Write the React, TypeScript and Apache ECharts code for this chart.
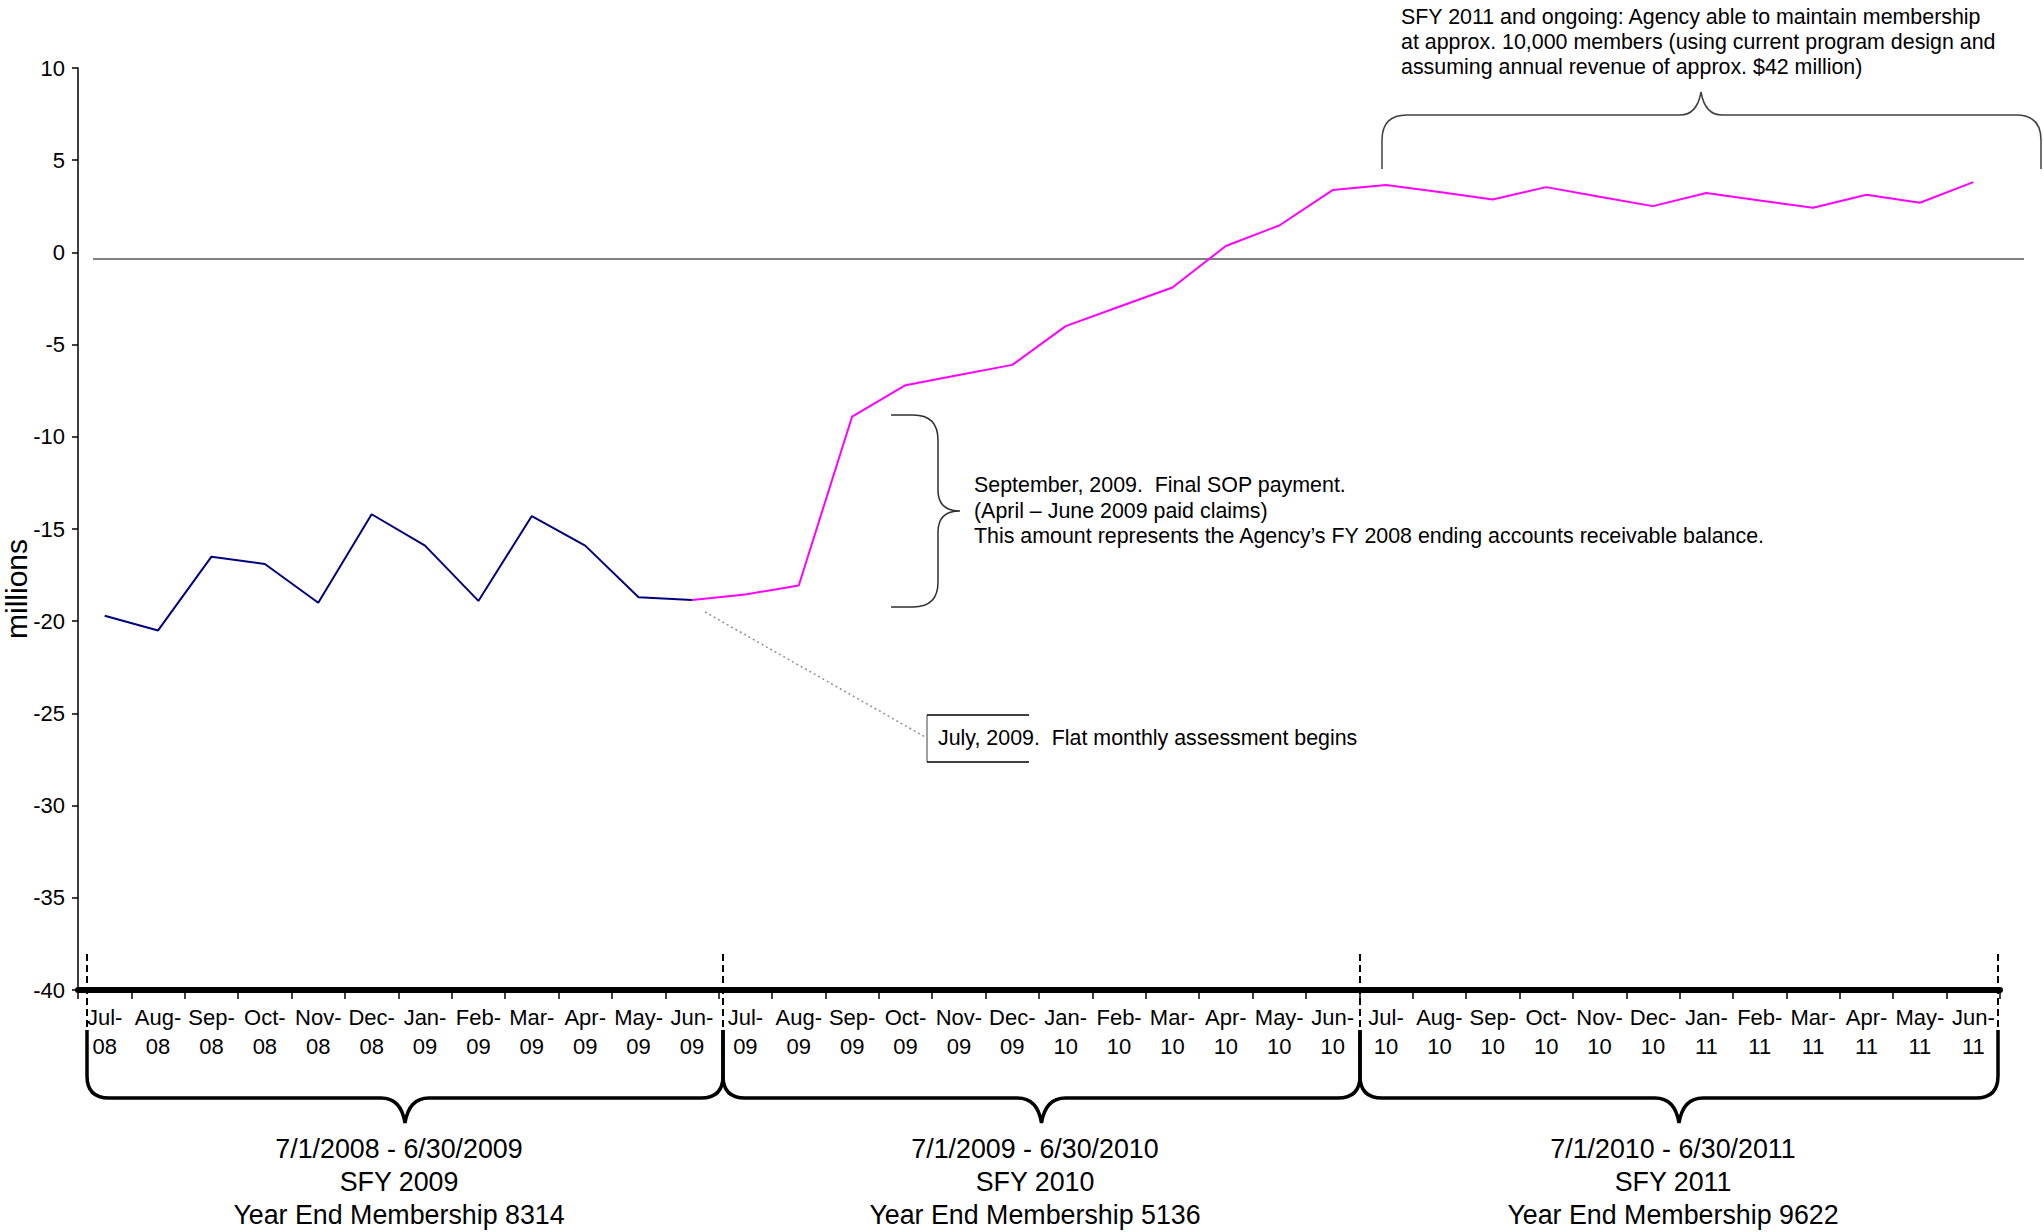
import React, { useEffect, useRef } from "react";
import * as echarts from "echarts";

const categories = [
  "Jul-08", "Aug-08", "Sep-08", "Oct-08", "Nov-08", "Dec-08", "Jan-09", "Feb-09", "Mar-09", "Apr-09", "May-09", "Jun-09",
  "Jul-09", "Aug-09", "Sep-09", "Oct-09", "Nov-09", "Dec-09", "Jan-10", "Feb-10", "Mar-10", "Apr-10", "May-10", "Jun-10",
  "Jul-10", "Aug-10", "Sep-10", "Oct-10", "Nov-10", "Dec-10", "Jan-11", "Feb-11", "Mar-11", "Apr-11", "May-11", "Jun-11",
];

// Actual balance, Jul-08 .. Jun-09 (millions)
const actualValues = [-19.7, -20.5, -16.5, -16.9, -19.0, -14.2, -15.9, -18.9, -14.3, -15.9, -18.7, -18.85];

// Projected balance, Jun-09 .. Jun-11 (millions)
const projectedValues = [
  -18.85,
  -18.55, -18.06, -8.9, -7.2, -6.65, -6.1, -4.0, -2.95, -1.9, 0.35, 1.46, 3.38,
  3.65, 3.27, 2.87, 3.54, 3.02, 2.51, 3.22, 2.82, 2.42, 3.13, 2.69, 3.81,
];

const yTicks = { min: -40, max: 10, interval: 5 };

const topNote = [
  "SFY 2011 and ongoing: Agency able to maintain membership",
  "at approx. 10,000 members (using current program design and",
  "assuming annual revenue of approx. $42 million)",
];
const sopNote = [
  "September, 2009.  Final SOP payment.",
  "(April \u2013 June 2009 paid claims)",
  "This amount represents the Agency\u2019s FY 2008 ending accounts receivable balance.",
];
const julyNote = "July, 2009.  Flat monthly assessment begins";

const fyBlocks = [
  ["7/1/2008 - 6/30/2009", "SFY 2009", "Year End Membership 8314"],
  ["7/1/2009 - 6/30/2010", "SFY 2010", "Year End Membership 5136"],
  ["7/1/2010 - 6/30/2011", "SFY 2011", "Year End Membership 9622"],
];

const FONT = '"Liberation Sans", Arial, Helvetica, sans-serif';

function txt(text: string, x: number, y: number, size: number, align = "left", color = "#000") {
  return {
    type: "text",
    x,
    y,
    silent: true,
    style: {
      text,
      fontSize: size,
      fontFamily: FONT,
      fill: color,
      align,
      textAlign: align,
      verticalAlign: "middle",
      textVerticalAlign: "middle",
    },
  };
}

export default function App() {
  const ref = useRef<HTMLDivElement>(null);

  useEffect(() => {
    if (!ref.current) return;

    const braceRanges = [
      [87, 723],
      [723, 1360],
      [1360, 1998],
    ];
    braceRanges.forEach(([xL, xR], i) => {
      const c = (xL + xR) / 2;
      const d = `M ${xL} 1030 L ${xL} 1076 Q ${xL} 1098 ${xL + 22} 1098 L ${c - 24} 1098 Q ${c - 4} 1098 ${c} 1123 Q ${c + 4} 1098 ${c + 24} 1098 L ${xR - 22} 1098 Q ${xR} 1098 ${xR} 1076 L ${xR} 1030`;
      echarts.graphic.registerShape("fyBrace" + i, echarts.graphic.extendPath(d, {}));
    });
    echarts.graphic.registerShape(
      "topBrace",
      echarts.graphic.extendPath(
        "M 1382 169 L 1382 140 Q 1382 115 1407 115 L 1680 115 Q 1697 115 1701 92 Q 1705 115 1722 115 L 2016 115 Q 2041 115 2041 140 L 2041 169",
        {}
      )
    );
    echarts.graphic.registerShape(
      "sopBrace",
      echarts.graphic.extendPath(
        "M 891 415 L 913 415 Q 938 415 938 440 L 938 490 Q 938 511 960 511 Q 938 511 938 532 L 938 582 Q 938 607 913 607 L 891 607",
        {}
      )
    );

    const chart = echarts.init(ref.current, undefined, { renderer: "svg" });

    const n = categories.length;
    const actualData = categories.map((_, i) => (i < actualValues.length ? actualValues[i] : null));
    const startIdx = n - projectedValues.length;
    const projectedData = categories.map((_, i) => (i >= startIdx ? projectedValues[i - startIdx] : null));

    const graphics: any[] = [];
    graphics.push({ type: "line", silent: true, shape: { x1: 93, y1: 259, x2: 2024, y2: 259 }, style: { stroke: "#808080", lineWidth: 2 } });
    graphics.push({ type: "line", silent: true, shape: { x1: 705, y1: 612, x2: 927, y2: 738 }, style: { stroke: "#909090", lineWidth: 1.5, lineDash: [2, 3] } });
    graphics.push({ type: "line", silent: true, shape: { x1: 927, y1: 715, x2: 927, y2: 762 }, style: { stroke: "#808080", lineWidth: 1.5 } });
    graphics.push({ type: "polyline", silent: true, shape: { points: [[1029, 715], [927, 715]] }, style: { stroke: "#000", lineWidth: 1.5, fill: "none" } });
    graphics.push({ type: "polyline", silent: true, shape: { points: [[927, 762], [1029, 762]] }, style: { stroke: "#000", lineWidth: 1.5, fill: "none" } });
    graphics.push(txt(julyNote, 938, 738, 21.4));

    [87, 723, 1360, 1998].forEach((x) => {
      graphics.push({ type: "line", silent: true, shape: { x1: x, y1: 954, x2: x, y2: 1032 }, style: { stroke: "#000", lineWidth: 2, lineDash: [7, 4] } });
    });
    braceRanges.forEach((_, i) => {
      graphics.push({ type: "fyBrace" + i, silent: true, x: 0, y: 0, style: { stroke: "#000", lineWidth: 3.5, fill: "none" } });
    });
    graphics.push({ type: "topBrace", silent: true, x: 0, y: 0, style: { stroke: "#404040", lineWidth: 1.5, fill: "none" } });
    graphics.push({ type: "sopBrace", silent: true, x: 0, y: 0, style: { stroke: "#303030", lineWidth: 1.5, fill: "none" } });

    topNote.forEach((t, i) => graphics.push(txt(t, 1401, 17 + i * 24.8, 21.4)));
    sopNote.forEach((t, i) => graphics.push(txt(t, 974, 485 + i * 25.5, 21.4)));

    const centers = [399, 1035, 1673];
    fyBlocks.forEach((lines, b) => {
      lines.forEach((t, i) => graphics.push(txt(t, centers[b], 1149 + i * 33, 26.8, "center")));
    });

    graphics.push({
      type: "text",
      x: 16,
      y: 589,
      rotation: Math.PI / 2,
      silent: true,
      style: {
        text: "millions",
        fontSize: 30,
        fontFamily: FONT,
        fill: "#000",
        align: "center",
        textAlign: "center",
        verticalAlign: "middle",
        textVerticalAlign: "middle",
      },
    });

    chart.setOption({
      animation: false,
      backgroundColor: "#fff",
      grid: { left: 78, right: 44, top: 68, bottom: 242, containLabel: false },
      xAxis: {
        type: "category",
        data: categories,
        boundaryGap: true,
        axisLine: { onZero: false, lineStyle: { color: "#000", width: 6 } },
        axisTick: { show: true, interval: 0, length: 9, lineStyle: { color: "#000", width: 1.5 } },
        axisLabel: {
          interval: 0,
          margin: 13,
          fontSize: 22,
          lineHeight: 29,
          color: "#000",
          fontFamily: FONT,
          formatter: (v: string) => {
            const [m, y] = v.split("-");
            return m + "-\n" + y;
          },
        },
        splitLine: { show: false },
      },
      yAxis: {
        type: "value",
        min: yTicks.min,
        max: yTicks.max,
        interval: yTicks.interval,
        axisLine: { show: true, lineStyle: { color: "#000", width: 1.5 } },
        axisTick: { show: true, length: 6, lineStyle: { color: "#000", width: 1.5 } },
        axisLabel: { margin: 13, fontSize: 22, color: "#000", fontFamily: FONT },
        splitLine: { show: false },
      },
      series: [
        {
          name: "Actual",
          type: "line",
          data: actualData,
          symbol: "none",
          connectNulls: false,
          lineStyle: { color: "#000080", width: 2 },
          z: 3,
        },
        {
          name: "Projected",
          type: "line",
          data: projectedData,
          symbol: "none",
          connectNulls: false,
          lineStyle: { color: "#FF00FF", width: 2 },
          z: 2,
        },
      ],
      graphic: graphics,
    });

    return () => {
      chart.dispose();
    };
  }, []);

  return (
    <div
      ref={ref}
      style={{ position: "absolute", left: 0, top: 0, width: 2044, height: 1232, background: "#fff" }}
    />
  );
}
